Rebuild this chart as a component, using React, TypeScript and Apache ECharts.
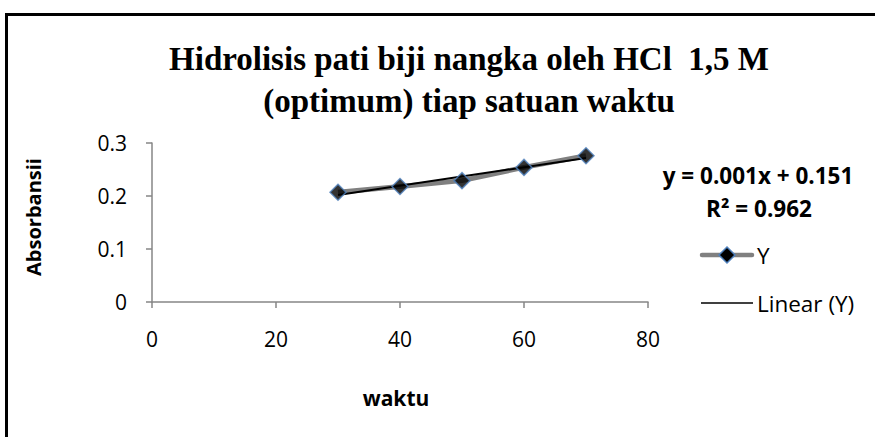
import React, { useEffect, useRef } from "react";
import * as echarts from "echarts";

const waktu = [30, 40, 50, 60, 70];
const absorbansi = [0.207, 0.218, 0.229, 0.254, 0.276];
const xTicks = [0, 20, 40, 60, 80];
const yTicks = [0, 0.1, 0.2, 0.3];
const titleLines = ["Hidrolisis pati biji nangka oleh HCl  1,5 M", "(optimum) tiap satuan waktu"];
const seriesName = "Y";
const trendName = "Linear (Y)";
const equationText = "y = 0.001x + 0.151";
const r2Text = "R² = 0.962";
const xAxisName = "waktu";
const yAxisName = "Absorbansii";

function regression(xs: number[], ys: number[]) {
  const n = xs.length;
  const mx = xs.reduce((a, b) => a + b, 0) / n;
  const my = ys.reduce((a, b) => a + b, 0) / n;
  let sxy = 0, sxx = 0;
  for (let i = 0; i < n; i++) {
    sxy += (xs[i] - mx) * (ys[i] - my);
    sxx += (xs[i] - mx) * (xs[i] - mx);
  }
  const slope = sxy / sxx;
  return { slope, intercept: my - slope * mx };
}

export default function App() {
  const ref = useRef<HTMLDivElement>(null);
  useEffect(() => {
    if (!ref.current) return;
    const chart = echarts.init(ref.current, null, { renderer: "svg" });
    const { slope, intercept } = regression(waktu, absorbansi);
    const xFirst = waktu[0];
    const xLast = waktu[waktu.length - 1];
    const trend = [
      [xFirst, slope * xFirst + intercept],
      [xLast, slope * xLast + intercept],
    ];
    const pts = waktu.map((x, i) => [x, absorbansi[i]]);
    const labelFont = "'Open Sans', sans-serif";
    const markerStyle = { color: "#000", borderColor: "#4F81BD", borderWidth: 1.5 };
    const legY1 = 255;
    const legY2 = 303;
    chart.setOption({
      animation: false,
      backgroundColor: "#ffffff",
      title: {
        text: titleLines.join("\n"),
        left: 464,
        top: 33,
        textAlign: "center",
        textStyle: {
          fontFamily: "'Liberation Serif', serif",
          fontWeight: "bold",
          fontSize: 33,
          lineHeight: 42,
          color: "#000",
        },
      },
      grid: { left: 152, right: 227, top: 143, bottom: 135 },
      xAxis: {
        type: "value",
        min: xTicks[0],
        max: xTicks[xTicks.length - 1],
        interval: 20,
        splitLine: { show: false },
        axisLine: { lineStyle: { color: "#868686", width: 1.5 } },
        axisTick: { show: true, length: 6, lineStyle: { color: "#868686", width: 1.5 } },
        axisLabel: { color: "#000", fontSize: 21, fontFamily: labelFont, margin: 26 },
      },
      yAxis: {
        type: "value",
        min: yTicks[0],
        max: yTicks[yTicks.length - 1],
        interval: 0.1,
        splitLine: { show: false },
        axisLine: { show: true, lineStyle: { color: "#868686", width: 1.5 } },
        axisTick: { show: true, length: 6, lineStyle: { color: "#868686", width: 1.5 } },
        axisLabel: { color: "#000", fontSize: 21, fontFamily: labelFont, margin: 25 },
      },
      series: [
        {
          name: seriesName,
          type: "line",
          data: pts,
          z: 2,
          lineStyle: { color: "#808080", width: 5 },
          symbol: "none",
        },
        {
          name: trendName,
          type: "line",
          data: trend,
          z: 3,
          symbol: "none",
          lineStyle: { color: "#000", width: 2 },
        },
        {
          name: seriesName + " markers",
          type: "scatter",
          data: pts,
          z: 4,
          symbol: "diamond",
          symbolSize: 16,
          itemStyle: markerStyle,
        },
      ],
      graphic: [
        {
          type: "polyline",
          shape: { points: [[6.5, 437], [6.5, 14.5], [875, 14.5]] },
          style: { stroke: "#000", lineWidth: 3, fill: "none" },
        },
        {
          type: "text",
          x: 758,
          y: 175,
          style: {
            text: equationText,
            fontSize: 22.5,
            fontWeight: "bold",
            fontFamily: labelFont,
            fill: "#000",
            textAlign: "center",
            textVerticalAlign: "middle",
          },
        },
        {
          type: "text",
          x: 759,
          y: 208,
          style: {
            text: r2Text,
            fontSize: 22.5,
            fontWeight: "bold",
            fontFamily: labelFont,
            fill: "#000",
            textAlign: "center",
            textVerticalAlign: "middle",
          },
        },
        {
          type: "line",
          shape: { x1: 702, y1: legY1, x2: 752, y2: legY1 },
          style: { stroke: "#808080", lineWidth: 4.5, lineCap: "round" },
        },
        {
          type: "polygon",
          shape: { points: [[727, legY1 - 8], [735, legY1], [727, legY1 + 8], [719, legY1]] },
          style: { fill: "#000", stroke: "#4F81BD", lineWidth: 1.5 },
        },
        {
          type: "text",
          x: 757,
          y: legY1,
          style: {
            text: seriesName,
            fontSize: 22.5,
            fontFamily: labelFont,
            fill: "#000",
            textAlign: "left",
            textVerticalAlign: "middle",
          },
        },
        {
          type: "line",
          shape: { x1: 701, y1: legY2, x2: 753, y2: legY2 },
          style: { stroke: "#000", lineWidth: 1.5 },
        },
        {
          type: "text",
          x: 757,
          y: legY2,
          style: {
            text: trendName,
            fontSize: 22.5,
            fontFamily: labelFont,
            fill: "#000",
            textAlign: "left",
            textVerticalAlign: "middle",
          },
        },
        {
          type: "text",
          x: 33,
          y: 217,
          rotation: Math.PI / 2,
          style: {
            text: yAxisName,
            fontSize: 20,
            fontWeight: "bold",
            fontFamily: labelFont,
            fill: "#000",
            textAlign: "center",
            textVerticalAlign: "middle",
          },
        },
        {
          type: "text",
          x: 396,
          y: 398,
          style: {
            text: xAxisName,
            fontSize: 21,
            fontWeight: "bold",
            fontFamily: labelFont,
            fill: "#000",
            textAlign: "center",
            textVerticalAlign: "middle",
          },
        },
      ],
    });
    return () => chart.dispose();
  }, []);
  return (
    <div
      ref={ref}
      style={{ position: "fixed", left: 0, top: 0, width: 875, height: 437 }}
    />
  );
}
